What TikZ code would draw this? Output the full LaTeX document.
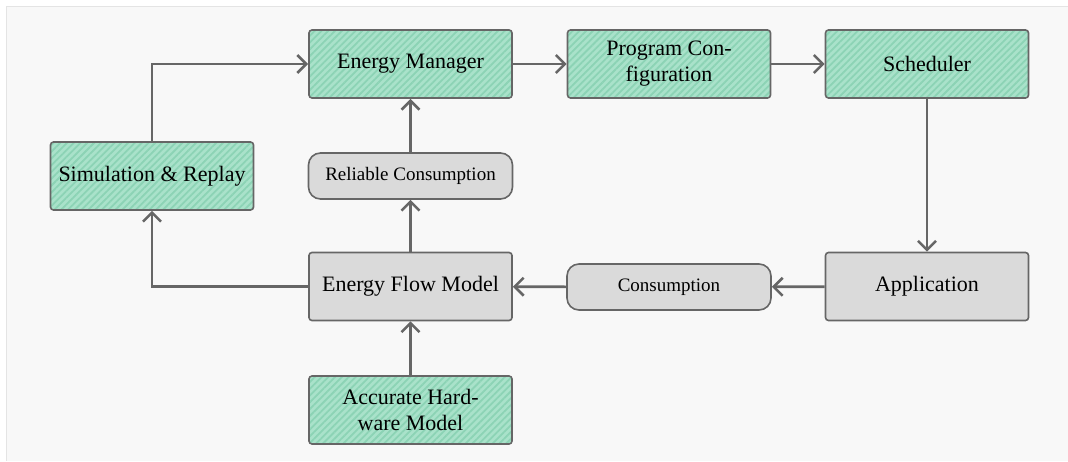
\documentclass[tikz,border=0pt]{standalone}
\usepackage{fontspec}
\setmainfont{Liberation Serif}
\usetikzlibrary{arrows.meta,patterns.meta}
\definecolor{panelgray}{HTML}{F8F8F8}
\definecolor{panelline}{HTML}{E4E4E4}
\definecolor{edgegray}{HTML}{666666}
\definecolor{boxgray}{HTML}{DADADA}
\definecolor{greenbase}{HTML}{A9E2CA}
\definecolor{greenline}{HTML}{8CD3B5}

\begin{document}
\begin{tikzpicture}[x=0.5pt,y=0.5pt,
	every node/.style={draw=edgegray,line width=0.8pt,align=center,inner sep=2pt},
	greenbox/.style={rounded corners=1.5pt,minimum width=101.5pt,minimum height=34pt,
		preaction={fill=greenbase},
		pattern={Lines[angle=45,distance=2.4pt,line width=0.9pt]},pattern color=greenline,
		font=\fontsize{11}{13}\selectfont},
	graybox/.style={fill=boxgray,rounded corners=1.5pt,minimum width=101.5pt,minimum height=34pt,
		font=\fontsize{11}{13}\selectfont},
	pill/.style={fill=boxgray,rounded corners=6pt,minimum width=102pt,minimum height=23pt,
		font=\fontsize{9.5}{11}\selectfont},
	flow/.style={draw=edgegray,line width=1.3pt,-{Straight Barb[length=4.5pt,width=9pt,line width=1.3pt]}}]

	\useasboundingbox (0,0) rectangle (1068,461);
	\fill[panelgray] (6,0) rectangle (1068,454);
	\draw[panelline,line width=0.5pt] (6,0) -- (6,454) -- (1068,454);

	\node [greenbox,name=em] at (410.5,397) {Energy Manager};
	\node [greenbox,name=pc] at (669,397) {Program Con-\\figuration};
	\node [greenbox,name=sched] at (927,397) {Scheduler};
	\node [greenbox,name=sim] at (152,285) {Simulation \& Replay};
	\node [pill,name=rel] at (410.5,285) {Reliable Consumption};
	\node [graybox,name=efm] at (410.5,174.5) {Energy Flow Model};
	\node [pill,name=cons] at (669,174) {Consumption};
	\node [graybox,name=app] at (927,174.5) {Application};
	\node [greenbox,name=ahm] at (410.5,51) {Accurate Hard-\\ware Model};

	\draw [flow] (sim.north) |- (em.west);
	\draw [flow] (em) -- (pc);
	\draw [flow] (pc) -- (sched);
	\draw [flow] (sched) -- (app);
	\draw [flow] (app) -- (cons);
	\draw [flow] (cons) -- (efm);
	\draw [flow] (efm) -- (rel);
	\draw [flow] (rel) -- (em);
	\draw [flow] (efm.west) -| (sim.south);
	\draw [flow] (ahm) -- (efm);
\end{tikzpicture}
\end{document}
